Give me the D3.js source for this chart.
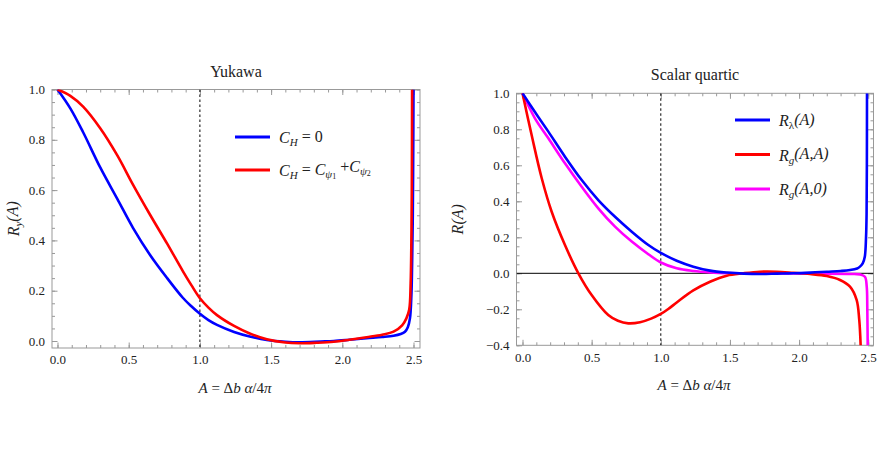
<!DOCTYPE html>
<html>
<head>
<meta charset="utf-8">
<script src="https://cdn.jsdelivr.net/npm/d3@7"></script>
<style>
  body { margin: 0; background: #fff; }
</style>
</head>
<body>
<div id="chart"></div>
<script>
var svgWidth = 880;
var svgHeight = 460;
var serif = "Liberation Serif";

// Yukawa panel
var yukBlueA = [0, 0.09, 0.18, 0.3, 0.42, 0.53, 0.65, 0.77, 0.88, 0.94, 1.0, 1.06, 1.12, 1.24, 1.35, 1.47, 1.6, 1.7, 1.85, 1.94, 2.05, 2.17, 2.28, 2.36, 2.41, 2.44, 2.46, 2.475, 2.485, 2.49, 2.495, 2.498, 2.5];
var yukBlueR = [1.0, 0.925, 0.83, 0.69, 0.565, 0.45, 0.342, 0.25, 0.172, 0.138, 0.108, 0.083, 0.064, 0.036, 0.018, 0.004, -0.003, -0.005, -0.002, 0.0, 0.005, 0.011, 0.016, 0.021, 0.028, 0.037, 0.055, 0.09, 0.18, 0.3, 0.5, 0.75, 1.0];
var yukRedA = [0, 0.09, 0.18, 0.3, 0.42, 0.53, 0.65, 0.77, 0.88, 0.94, 1.0, 1.06, 1.12, 1.24, 1.35, 1.47, 1.6, 1.7, 1.82, 1.94, 2.05, 2.17, 2.28, 2.36, 2.42, 2.45, 2.47, 2.48, 2.485, 2.488, 2.49];
var yukRedR = [1.0, 0.975, 0.932, 0.846, 0.738, 0.622, 0.502, 0.387, 0.278, 0.222, 0.17, 0.133, 0.103, 0.06, 0.03, 0.007, -0.006, -0.009, -0.007, -0.003, 0.005, 0.015, 0.025, 0.037, 0.062, 0.09, 0.125, 0.23, 0.4, 0.6, 1.0];

// Scalar quartic panel
var quaLamA = [0, 0.09, 0.187, 0.307, 0.428, 0.548, 0.669, 0.79, 0.91, 1.0, 1.115, 1.235, 1.356, 1.477, 1.6, 1.717, 1.84, 1.958, 2.08, 2.2, 2.3, 2.368, 2.42, 2.44, 2.46, 2.475, 2.484, 2.488, 2.49, 2.491];
var quaLamR = [1.0, 0.896, 0.787, 0.648, 0.518, 0.407, 0.314, 0.231, 0.157, 0.113, 0.07, 0.037, 0.015, 0.004, -0.002, -0.004, -0.002, 0.0, 0.004, 0.009, 0.013, 0.018, 0.027, 0.037, 0.055, 0.092, 0.2, 0.33, 0.6, 1.0];
var quaAAA = [0, 0.066, 0.139, 0.211, 0.307, 0.404, 0.5, 0.62, 0.69, 0.765, 0.85, 0.93, 1.0, 1.06, 1.115, 1.235, 1.356, 1.477, 1.597, 1.717, 1.838, 1.958, 2.079, 2.2, 2.296, 2.368, 2.416, 2.435, 2.445, 2.45];
var quaAAR = [1.0, 0.768, 0.528, 0.342, 0.157, 0.0, -0.121, -0.232, -0.264, -0.278, -0.272, -0.252, -0.226, -0.195, -0.162, -0.095, -0.047, -0.013, 0.0, 0.009, 0.009, 0.003, -0.004, -0.015, -0.037, -0.074, -0.148, -0.259, -0.4, -0.6];
var quaA0A = [0, 0.09, 0.187, 0.307, 0.428, 0.548, 0.669, 0.79, 0.91, 1.0, 1.115, 1.235, 1.356, 1.477, 1.7, 2.0, 2.2, 2.35, 2.44, 2.476, 2.489, 2.493, 2.496, 2.498];
var quaA0R = [1.0, 0.861, 0.75, 0.611, 0.481, 0.361, 0.259, 0.176, 0.106, 0.06, 0.028, 0.013, 0.005, 0.001, 0.0, -0.001, -0.002, -0.004, -0.006, -0.019, -0.074, -0.185, -0.4, -0.6];

var xMajor = [0, 0.5, 1.0, 1.5, 2.0, 2.5];
var yukYMajor = [0, 0.2, 0.4, 0.6, 0.8, 1.0];
var quaYMajor = [-0.4, -0.2, 0, 0.2, 0.4, 0.6, 0.8, 1.0];

var svg = d3.select("#chart")
  .append("svg")
  .attr("width", svgWidth)
  .attr("height", svgHeight);

function zip(xs, ys) {
  return xs.map((x, i) => [x, ys[i]]);
}

function minorTicks(lo, hi, step) {
  var out = [];
  for (var v = Math.ceil(lo / step - 1e-9) * step; v <= hi + 1e-9; v += step) out.push(+v.toFixed(3));
  return out;
}

function drawPanel(p) {
  var x = d3.scaleLinear().domain(p.xDomain).range([p.left, p.right]);
  var y = d3.scaleLinear().domain(p.yDomain).range([p.bottom, p.top]);
  var g = svg.append("g");

  var clipId = "clip" + p.id;
  svg.append("clipPath").attr("id", clipId)
    .append("rect")
    .attr("x", p.left).attr("y", p.top)
    .attr("width", p.right - p.left).attr("height", p.bottom - p.top);

  var xMinor = minorTicks(p.xDomain[0], p.xDomain[1], 0.1);
  var yMinor = minorTicks(p.yDomain[0], p.yDomain[1], 0.05);
  var fmt = d3.format(".1f");
  var minus = d => fmt(d).replace("-", "\u2212");

  // ticks point into the frame on all four sides
  function axes(axisFn, scale, major, minor, transform, labels) {
    var gm = g.append("g").attr("transform", transform)
      .call(axisFn(scale).tickValues(minor).tickSize(-3).tickFormat(""));
    var gM = g.append("g").attr("transform", transform)
      .call(axisFn(scale).tickValues(major).tickSize(-5.5).tickPadding(7)
        .tickFormat(labels ? minus : ""));
    [gm, gM].forEach(a => {
      a.attr("font-family", null).attr("font-size", null);
      a.select(".domain").remove();
      a.selectAll("line").attr("stroke", "#999");
      a.selectAll("text").style("font-size", "13px");
    });
  }
  axes(d3.axisBottom, x, xMajor, xMinor, `translate(0,${p.bottom})`, true);
  axes(d3.axisTop, x, xMajor, xMinor, `translate(0,${p.top})`, false);
  axes(d3.axisLeft, y, p.yMajor, yMinor, `translate(${p.left},0)`, true);
  axes(d3.axisRight, y, p.yMajor, yMinor, `translate(${p.right},0)`, false);

  g.append("rect")
    .attr("x", p.left).attr("y", p.top)
    .attr("width", p.right - p.left).attr("height", p.bottom - p.top)
    .attr("fill", "none").attr("stroke", "#999").attr("stroke-width", 1);

  var plot = g.append("g").attr("clip-path", `url(#${clipId})`);

  if (p.zeroLine) {
    plot.append("line")
      .attr("x1", p.left).attr("x2", p.right)
      .attr("y1", y(0)).attr("y2", y(0))
      .attr("stroke", "#000").attr("stroke-width", 1);
  }

  plot.append("line")
    .attr("x1", x(1)).attr("x2", x(1))
    .attr("y1", p.top).attr("y2", p.bottom)
    .attr("stroke", "#000").attr("stroke-width", 1)
    .attr("stroke-dasharray", "2.5,2.5");

  var line = d3.line().x(d => x(d[0])).y(d => y(d[1])).curve(d3.curveCatmullRom.alpha(0.5));
  p.series.forEach(s => {
    plot.append("path")
      .datum(zip(s.a, s.r))
      .attr("d", line)
      .attr("fill", "none")
      .attr("stroke", s.color)
      .attr("stroke-width", 2.6);
  });

  g.append("text")
    .attr("x", (p.left + p.right) / 2).attr("y", p.top - 13)
    .attr("text-anchor", "middle")
    .style("font-size", "16px")
    .text(p.title);

  // x label: A = Δb α/4π
  var xl = g.append("text")
    .attr("x", (p.left + p.right) / 2 - 1).attr("y", p.bottom + 45)
    .attr("text-anchor", "middle")
    .style("font-size", "15px");
  xl.append("tspan").style("font-style", "italic").text("A");
  xl.append("tspan").text(" = \u0394");
  xl.append("tspan").style("font-style", "italic").text("b \u03b1");
  xl.append("tspan").text("/4");
  xl.append("tspan").style("font-style", "italic").text("\u03c0");

  var yl = g.append("text")
    .attr("transform", `translate(${p.yLabelX},${(p.top + p.bottom) / 2}) rotate(-90)`)
    .attr("text-anchor", "middle")
    .style("font-size", "16px")
    .style("font-style", "italic");
  p.yLabel(yl);

  p.legend.forEach((l, i) => {
    var ly = p.legendY + i * p.legendGap;
    g.append("line")
      .attr("x1", p.legendX).attr("x2", p.legendX + 35)
      .attr("y1", ly).attr("y2", ly)
      .attr("stroke", l.color).attr("stroke-width", 3);
    var t = g.append("text")
      .attr("x", p.legendX + 44).attr("y", ly + 6)
      .style("font-size", "16px");
    l.label(t);
  });
}

drawPanel({
  id: "L",
  left: 52, right: 420, top: 89.5, bottom: 348,
  xDomain: [-0.0386, 2.5456], yDomain: [-0.0278, 1.0],
  yMajor: yukYMajor,
  title: "Yukawa",
  yLabelX: 19,
  yLabel: t => {
    t.append("tspan").text("R");
    t.append("tspan").attr("dy", "0.3em").style("font-size", "11px").text("y");
    t.append("tspan").attr("dy", "-0.3em").text("(A)");
  },
  zeroLine: false,
  series: [
    { a: yukBlueA, r: yukBlueR, color: "#0000ff" },
    { a: yukRedA, r: yukRedR, color: "#ff0000" }
  ],
  legendX: 235, legendY: 137, legendGap: 33,
  legend: [
    { color: "#0000ff", label: t => {
      t.append("tspan").style("font-style", "italic").text("C");
      t.append("tspan").style("font-style", "italic").attr("dy", "0.3em").style("font-size", "11px").text("H");
      t.append("tspan").attr("dy", "-0.3em").text(" = 0");
    } },
    { color: "#ff0000", label: t => {
      t.append("tspan").style("font-style", "italic").text("C");
      t.append("tspan").style("font-style", "italic").attr("dy", "0.3em").style("font-size", "11px").text("H");
      t.append("tspan").attr("dy", "-0.3em").text(" = ");
      t.append("tspan").style("font-style", "italic").text("C");
      t.append("tspan").style("font-style", "italic").attr("dy", "0.3em").style("font-size", "11px").text("\u03c8");
      t.append("tspan").attr("dy", "0.15em").style("font-size", "8px").text("1");
      t.append("tspan").attr("dy", "-0.45em").text(" +");
      t.append("tspan").style("font-style", "italic").text("C");
      t.append("tspan").style("font-style", "italic").attr("dy", "0.3em").style("font-size", "11px").text("\u03c8");
      t.append("tspan").attr("dy", "0.15em").style("font-size", "8px").text("2");
    } }
  ]
});

drawPanel({
  id: "R",
  left: 516.5, right: 873.5, top: 93.3, bottom: 345.3,
  xDomain: [-0.0434, 2.538], yDomain: [-0.4, 1.0],
  yMajor: quaYMajor,
  title: "Scalar quartic",
  yLabelX: 463,
  yLabel: t => { t.text("R(A)"); },
  zeroLine: true,
  series: [
    { a: quaA0A, r: quaA0R, color: "#ff00ff" },
    { a: quaAAA, r: quaAAR, color: "#ff0000" },
    { a: quaLamA, r: quaLamR, color: "#0000ff" }
  ],
  legendX: 735, legendY: 120, legendGap: 34.5,
  legend: [
    { color: "#0000ff", label: t => {
      t.style("font-style", "italic");
      t.append("tspan").text("R");
      t.append("tspan").attr("dy", "0.3em").style("font-size", "11px").style("font-style", "normal").text("\u03bb");
      t.append("tspan").attr("dy", "-0.3em").text("(A)");
    } },
    { color: "#ff0000", label: t => {
      t.style("font-style", "italic");
      t.append("tspan").text("R");
      t.append("tspan").attr("dy", "0.3em").style("font-size", "11px").text("g");
      t.append("tspan").attr("dy", "-0.3em").text("(A,A)");
    } },
    { color: "#ff00ff", label: t => {
      t.style("font-style", "italic");
      t.append("tspan").text("R");
      t.append("tspan").attr("dy", "0.3em").style("font-size", "11px").text("g");
      t.append("tspan").attr("dy", "-0.3em").text("(A,0)");
    } }
  ]
});

svg.selectAll("text").style("font-family", serif).style("fill", "#222");
</script>
</body>
</html>
